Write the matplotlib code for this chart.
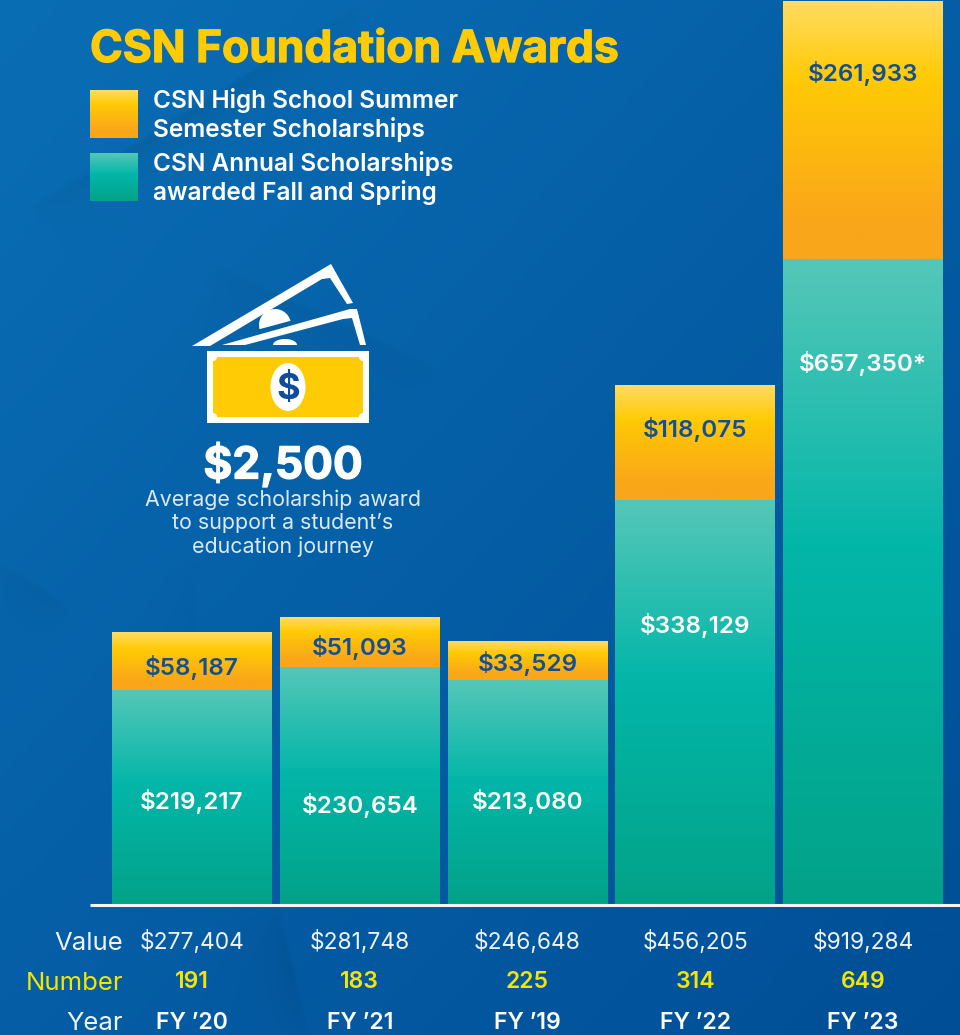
import numpy as np
import matplotlib
matplotlib.use("Agg")
import matplotlib.pyplot as plt
import matplotlib.patheffects as pe
from matplotlib.colors import LinearSegmentedColormap
from matplotlib.patches import Circle, Ellipse, Polygon, Rectangle, Wedge

plt.rcParams["font.family"] = ["Inter", "DejaVu Sans"]

# values
years = ["FY ’20", "FY ’21", "FY ’19", "FY ’22", "FY ’23"]
summer = [58187, 51093, 33529, 118075, 261933]
annual = [219217, 230654, 213080, 338129, 657350]
totals = [277404, 281748, 246648, 456205, 919284]
numbers = [191, 183, 225, 314, 649]
annual_notes = ["", "", "", "", "*"]

# the original bars are not all to scale with their labels, these are the heights as drawn
summer_drawn = [58187, 50900, 38700, 117100, 261933]
annual_drawn = [219217, 242400, 229100, 412400, 657350]

title = "CSN Foundation Awards"
legend_summer = "CSN High School Summer\nSemester Scholarships"
legend_annual = "CSN Annual Scholarships\nawarded Fall and Spring"

# label heights in pixels, they are placed by hand in the original
summer_label_y = [668, 648, 664, 430, 73]
annual_label_y = [802, 806, 802, 625, 363]

WIDTH, HEIGHT = 960, 1035
BASE_Y = 905
PX_PER_DOLLAR = 0.000982
FIRST_X = 192
STEP_X = 167.75

YELLOW = LinearSegmentedColormap.from_list(
    "yellow", [(0, "#ffdc62"), (0.3, "#ffca05"), (0.85, "#faa61a"), (1, "#faa61a")]
)
TEAL = LinearSegmentedColormap.from_list(
    "teal", [(0, "#55c7b8"), (0.45, "#02b6a8"), (1, "#03a288")]
)
NAVY = "#13508f"
GOLD = "#ffcb05"
LEMON = "#f4e600"


def make_background():
    yy, xx = np.mgrid[0:HEIGHT, 0:WIDTH]
    t = (xx / WIDTH + yy / HEIGHT) / 2
    start = np.array([10, 110, 181])
    end = np.array([0, 78, 150])
    img = start + (end - start) * t[..., None]

    # soft folds in the backdrop: (point, direction, strength, reach)
    folds = [
        ((30, 205), (330, -205), 0.09, 24),
        ((215, 262), (225, 105), 0.05, 45),
        ((0, 560), (75, 45), 0.05, 35),
        ((280, 905), (32, 130), 0.08, 28),
        ((195, 560), (25, 345), 0.03, 25),
    ]
    for (px, py), (dx, dy), strength, reach in folds:
        length = np.hypot(dx, dy)
        along = ((xx - px) * dx + (yy - py) * dy) / length**2
        side = ((xx - px) * -dy + (yy - py) * dx) / length
        fade = np.sin(np.pi * np.clip(along, 0, 1)) ** 0.5
        # ramp up quickly from the crease so it has no hard edge
        ramp = np.clip(side / 6, 0, 1) * np.exp(-np.clip(side, 0, None) / reach)
        img = img * (1 - (strength * fade * ramp)[..., None])
    return img / 255


def gradient_bar(ax, x, bottom, height, width, cmap):
    grad = np.linspace(0, 1, 256).reshape(-1, 1)
    ax.imshow(
        grad,
        extent=(x - width / 2, x + width / 2, bottom, bottom + height),
        cmap=cmap,
        vmin=0,
        vmax=1,
        aspect="auto",
        zorder=2,
    )


def draw_money(ax):
    back = [(192, 346), (331, 264), (353, 303), (347, 304), (330, 278), (322, 279), (210, 346)]
    ax.add_patch(Polygon(back, color="white", lw=0))
    ax.add_patch(Wedge((275, 325), 16, 165, 345, color="white", lw=0))
    middle = [(222, 345), (350, 309), (357, 309), (366, 345), (360, 345), (352, 318), (343, 319), (245, 345)]
    ax.add_patch(Polygon(middle, color="white", lw=0))
    angle = np.linspace(0, np.pi, 30)
    ax.add_patch(Polygon(np.column_stack([285 + 12 * np.cos(angle), 345 - 6 * np.sin(angle)]), color="white", lw=0))

    ax.add_patch(Rectangle((207, 351), 162, 72, color="white", lw=0))
    ax.add_patch(Rectangle((213, 357), 150, 60, color=GOLD, lw=0))
    for cx in (213, 363):
        for cy in (357, 417):
            ax.add_patch(Circle((cx, cy), 4, color="white", lw=0))
    ax.add_patch(Ellipse((288, 387), 35, 48, color="white", lw=0))
    ax.text(288, 390, "$", color="#104c9c", fontsize=26, fontweight="bold", ha="center", va="center")


fig = plt.figure(figsize=(WIDTH / 100, HEIGHT / 100), dpi=100)

# backdrop in pixel coordinates
bg = fig.add_axes([0, 0, 1, 1], zorder=0)
bg.imshow(make_background(), extent=(0, WIDTH, HEIGHT, 0), aspect="auto")
bg.set_xlim(0, WIDTH)
bg.set_ylim(HEIGHT, 0)
bg.axis("off")

# bars in category and dollar coordinates
ax = fig.add_axes([0, 0, 1, 1], zorder=1)
ax.patch.set_alpha(0)
bar_width = 160 / STEP_X
for i in range(len(years)):
    gradient_bar(ax, i, 0, annual_drawn[i], bar_width, TEAL)
    gradient_bar(ax, i, annual_drawn[i], summer_drawn[i], bar_width, YELLOW)
ax.set_xlim(-FIRST_X / STEP_X, (WIDTH - FIRST_X) / STEP_X)
ax.set_ylim(-(HEIGHT - BASE_Y) / PX_PER_DOLLAR, BASE_Y / PX_PER_DOLLAR)
ax.axis("off")

# texts and icon on top, back in pixel coordinates
top = fig.add_axes([0, 0, 1, 1], zorder=2)
top.patch.set_alpha(0)
top.axis("off")

top.plot([90, 960], [BASE_Y, BASE_Y], color="#f2f5f8", lw=2.2, solid_capstyle="butt")

heavy = [pe.withStroke(linewidth=0.9, foreground=GOLD)]
top.text(90, 50, title, color=GOLD, fontsize=31.9, fontweight="bold", va="center", path_effects=heavy)

swatch = np.linspace(0, 1, 256).reshape(-1, 1)
top.imshow(swatch, extent=(90, 138, 138, 90), cmap=YELLOW, vmin=0, vmax=1, aspect="auto")
top.imshow(swatch, extent=(90, 138, 201, 153), cmap=TEAL, vmin=0, vmax=1, aspect="auto")
top.set_xlim(0, WIDTH)
top.set_ylim(HEIGHT, 0)
top.text(153, 115, legend_summer, color="white", fontsize=17.6, fontweight="semibold", va="center", linespacing=1.18)
top.text(153, 178, legend_annual, color="white", fontsize=17.6, fontweight="semibold", va="center", linespacing=1.18)

draw_money(top)
top.text(
    283, 464, "$2,500", color="white", fontsize=31.8, fontweight="bold", ha="center", va="center",
    path_effects=[pe.withStroke(linewidth=0.9, foreground="white")],
)
top.text(
    283,
    523,
    "Average scholarship award\nto support a student’s\neducation journey",
    color="#dce9f4",
    fontsize=15.4,
    ha="center",
    va="center",
    linespacing=1.2,
)

for i in range(len(years)):
    cx = FIRST_X + STEP_X * i
    top.text(cx, summer_label_y[i], f"${summer[i]:,}", color=NAVY, fontsize=17.4, fontweight="semibold", ha="center", va="center")
    top.text(cx, annual_label_y[i], f"${annual[i]:,}{annual_notes[i]}", color="white", fontsize=17.4, fontweight="semibold", ha="center", va="center")
    top.text(cx, 942, f"${totals[i]:,}", color="#eef3f8", fontsize=16.4, ha="center", va="center")
    top.text(cx, 982, str(numbers[i]), color=LEMON, fontsize=16.5, fontweight="semibold", ha="center", va="center")
    top.text(cx, 1023, years[i], color="white", fontsize=16.6, fontweight="semibold", ha="center", va="center")

top.text(123, 943, "Value", color="#eef3f8", fontsize=18.5, ha="right", va="center")
top.text(123, 983, "Number", color=LEMON, fontsize=18.5, ha="right", va="center")
top.text(123, 1024, "Year", color="#eef3f8", fontsize=18.5, ha="right", va="center")

fig.savefig("out.png", dpi=100)
